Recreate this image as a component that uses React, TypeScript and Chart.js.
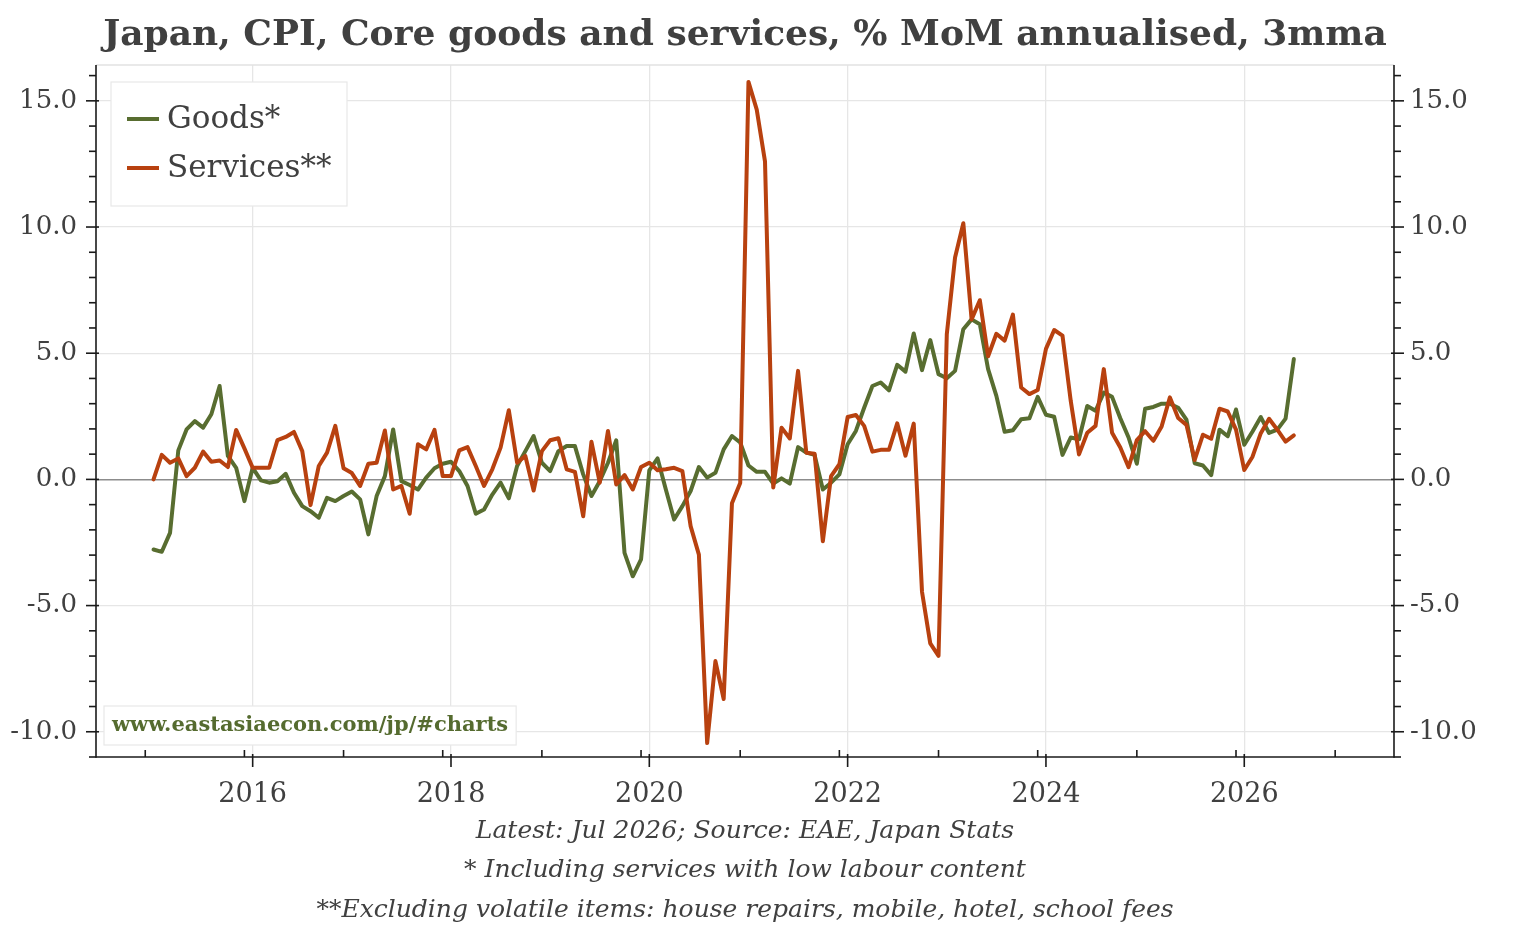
import React, { useEffect, useRef } from "react";
import { Chart, registerables } from "chart.js";

Chart.register(...registerables);

// ---------- DATA ----------
const START_YEAR = 2015; // first observation: Jan 2015, monthly to Jul 2026

const goods = [
  -2.78, -2.87, -2.12, 1.15, 1.98, 2.31, 2.05, 2.58, 3.7, 0.93, 0.46, -0.86,
  0.46, -0.04, -0.13, -0.07, 0.22, -0.53, -1.06, -1.26, -1.52, -0.73, -0.86, -0.66,
  -0.48, -0.79, -2.18, -0.66, 0.13, 1.98, -0.07, -0.22, -0.4, 0.07, 0.44, 0.62,
  0.7, 0.33, -0.26, -1.36, -1.19, -0.6, -0.13, -0.75, 0.53, 1.12, 1.72, 0.66,
  0.33, 1.12, 1.32, 1.32, 0.2, -0.66, -0.07, 0.66, 1.55, -2.91, -3.84, -3.17,
  0.36, 0.83, -0.4, -1.59, -1.06, -0.46, 0.49, 0.07, 0.26, 1.19, 1.72, 1.46,
  0.55, 0.3, 0.3, -0.17, 0.04, -0.17, 1.28, 1.06, 0.97, -0.4, -0.13, 0.2,
  1.39, 1.92, 2.84, 3.7, 3.84, 3.53, 4.54, 4.27, 5.78, 4.33, 5.52, 4.17,
  4.01, 4.3, 5.95, 6.34, 6.15, 4.37, 3.31, 1.89, 1.95, 2.38, 2.42, 3.27,
  2.56, 2.48, 0.97, 1.66, 1.59, 2.91, 2.72, 3.44, 3.27, 2.42, 1.66, 0.62,
  2.8, 2.87, 3.0, 3.0, 2.84, 2.37, 0.64, 0.55, 0.17, 1.97, 1.71, 2.77,
  1.37, 1.9, 2.47, 1.84, 1.97, 2.41, 4.77,
];

const services = [
  0.0, 0.97, 0.66, 0.83, 0.13, 0.46, 1.1, 0.7, 0.75, 0.49, 1.96, 1.23,
  0.46, 0.46, 0.46, 1.56, 1.68, 1.88, 1.12, -1.02, 0.53, 1.06, 2.12, 0.44,
  0.25, -0.26, 0.62, 0.66, 1.94, -0.4, -0.26, -1.36, 1.39, 1.19, 1.96, 0.13,
  0.13, 1.15, 1.28, 0.53, -0.26, 0.4, 1.26, 2.74, 0.66, 0.93, -0.44, 1.12,
  1.55, 1.63, 0.4, 0.3, -1.46, 1.49, -0.13, 1.92, -0.2, 0.17, -0.4, 0.49,
  0.66, 0.36, 0.4, 0.46, 0.33, -1.85, -2.98, -10.45, -7.2, -8.7, -0.95, -0.14,
  15.75, 14.65, 12.6, -0.32, 2.05, 1.62, 4.3, 1.06, 1.02, -2.45, 0.13, 0.6,
  2.47, 2.55, 2.12, 1.1, 1.17, 1.17, 2.22, 0.94, 2.21, -4.45, -6.5, -6.99,
  5.75, 8.79, 10.15, 6.34, 7.1, 4.88, 5.77, 5.5, 6.53, 3.64, 3.38, 3.54,
  5.17, 5.92, 5.7, 3.11, 0.99, 1.85, 2.12, 4.37, 1.85, 1.26, 0.48, 1.56,
  1.91, 1.53, 2.1, 3.25, 2.43, 2.16, 0.77, 1.77, 1.61, 2.8, 2.69, 1.97,
  0.37, 0.9, 1.83, 2.4, 1.97, 1.5, 1.74,
];

// month categories, "YYYY-MM"
const months = goods.map((_, i) => {
  const yr = START_YEAR + Math.floor(i / 12);
  const mo = (i % 12) + 1;
  return `${yr}-${String(mo).padStart(2, "0")}`;
});

const seriesLabels = ["Goods*", "Services**"];
const yTickValues = [-10, -5, 0, 5, 10, 15];
const xLabelYears = [2016, 2018, 2020, 2022, 2024, 2026];
const xMinorYears = [2015, 2016, 2017, 2018, 2019, 2020, 2021, 2022, 2023, 2024, 2025, 2026, 2027];

const titleText = "Japan, CPI, Core goods and services, % MoM annualised, 3mma";
const footerLines = [
  "Latest: Jul 2026; Source: EAE, Japan Stats",
  "* Including services with low labour content",
  "**Excluding volatile items: house repairs, mobile, hotel, school fees",
];
const watermark = "www.eastasiaecon.com/jp/#charts";

// ---------- STYLE ----------
const FONT = '"DejaVu Serif", Georgia, serif';
const TEXT = "#404040";
const GREEN = "#586d30";
const ORANGE = "#b8410f";
const GRID = "#e6e6e6";

const monthToX = (m: string) => {
  const [y, mo] = m.split("-").map(Number);
  return y + (mo - 1) / 12;
};

const decorPlugin = {
  id: "decor",
  afterDatasetsDraw(chart: any) {
    const { ctx, chartArea: a, scales } = chart;
    const xs = scales.x;
    const ys = scales.y;
    const line = (x1: number, y1: number, x2: number, y2: number) => {
      ctx.beginPath();
      ctx.moveTo(x1, y1);
      ctx.lineTo(x2, y2);
      ctx.stroke();
    };
    ctx.save();
    // top frame line
    ctx.strokeStyle = "#e2e2e2";
    ctx.lineWidth = 1.5;
    line(a.left, a.top, a.right, a.top);
    // spines
    ctx.strokeStyle = "#1a1a1a";
    ctx.lineWidth = 1.6;
    line(a.left, a.top, a.left, a.bottom + 0.8);
    line(a.right, a.top, a.right, a.bottom + 0.8);
    line(a.left, a.bottom, a.right, a.bottom);
    // y ticks (minor each unit, major at labels)
    for (let v = Math.ceil(ys.min); v <= ys.max; v++) {
      const py = ys.getPixelForValue(v);
      const major = yTickValues.includes(v);
      line(a.left - (major ? 10 : 7), py, a.left + (major ? 3 : 0), py);
      line(a.right - (major ? 3 : 0), py, a.right + (major ? 10 : 7), py);
    }
    // x ticks
    xMinorYears.forEach((yr) => {
      const px = xs.getPixelForValue(yr - 1 / 12);
      line(px, a.bottom, px, a.bottom - 7);
    });
    xLabelYears.forEach((yr) => {
      const px = xs.getPixelForValue(yr);
      line(px, a.bottom - 3, px, a.bottom + 10);
    });

    // legend box
    const lx = a.left + 15;
    const ly = a.top + 17;
    ctx.fillStyle = "#ffffff";
    ctx.fillRect(lx, ly, 236, 124);
    ctx.strokeStyle = "#e8e8e8";
    ctx.lineWidth = 1.2;
    ctx.strokeRect(lx, ly, 236, 124);
    ctx.font = `31px ${FONT}`;
    ctx.textBaseline = "middle";
    ctx.textAlign = "left";
    chart.data.datasets.forEach((ds: any, i: number) => {
      const cy = ly + 37 + i * 49;
      ctx.strokeStyle = ds.borderColor;
      ctx.lineWidth = 4;
      line(lx + 16, cy, lx + 48, cy);
      ctx.fillStyle = TEXT;
      ctx.fillText(ds.label, lx + 56, cy + 1);
    });

    // watermark box
    ctx.font = `bold 21px ${FONT}`;
    const tw = ctx.measureText(watermark).width;
    const wx = a.left + 8;
    const wy = a.bottom - 51;
    ctx.fillStyle = "#ffffff";
    ctx.fillRect(wx, wy, tw + 16, 39);
    ctx.strokeStyle = "#e8e8e8";
    ctx.lineWidth = 1.2;
    ctx.strokeRect(wx, wy, tw + 16, 39);
    ctx.fillStyle = "#556b2f";
    ctx.fillText(watermark, wx + 8, wy + 20);
    ctx.restore();
  },
};

export default function App() {
  const ref = useRef<HTMLCanvasElement | null>(null);

  useEffect(() => {
    document.body.style.margin = "0";
    const canvas = ref.current;
    if (!canvas) return;
    const chart = new Chart(canvas, {
      type: "line",
      data: {
        datasets: [
          {
            label: seriesLabels[0],
            data: months.map((m, i) => ({ x: monthToX(m), y: goods[i] })),
            borderColor: GREEN,
            backgroundColor: GREEN,
            borderWidth: 4,
            pointRadius: 0,
            order: 1,
            yAxisID: "y",
          },
          {
            label: seriesLabels[1],
            data: months.map((m, i) => ({ x: monthToX(m), y: services[i] })),
            borderColor: ORANGE,
            backgroundColor: ORANGE,
            borderWidth: 4,
            pointRadius: 0,
            order: 0,
            yAxisID: "y",
          },
        ],
      },
      options: {
        responsive: false,
        animation: false,
        devicePixelRatio: 1,
        layout: { padding: 0 },
        elements: { line: { tension: 0, borderJoinStyle: "round", borderCapStyle: "round" } },
        plugins: {
          legend: { display: false },
          tooltip: { enabled: false },
          title: {
            display: true,
            fullSize: false,
            text: titleText,
            color: TEXT,
            font: { family: FONT, size: 36, weight: "bold", lineHeight: 1.2 },
            padding: { top: 14, bottom: 7.8 },
          },
          subtitle: {
            display: true,
            fullSize: false,
            position: "bottom",
            text: footerLines,
            color: TEXT,
            font: { family: FONT, size: 25, style: "italic", lineHeight: 1.58 },
            padding: { top: 0, bottom: 0 },
          },
        },
        scales: {
          x: {
            type: "linear",
            min: 2014.42,
            max: 2027.51,
            afterBuildTicks: (s: any) => {
              s.ticks = xLabelYears.map((v) => ({ value: v }));
            },
            afterFit: (s: any) => {
              s.height = 54.5;
            },
            ticks: {
              callback: (v: any) => String(v),
              color: TEXT,
              font: { family: FONT, size: 27 },
              padding: 22,
              maxRotation: 0,
              autoSkip: false,
            },
            grid: { color: GRID, lineWidth: 1.3, drawTicks: false },
            border: { display: false },
          },
          y: {
            position: "left",
            min: -11.0,
            max: 16.42,
            afterBuildTicks: (s: any) => {
              s.ticks = yTickValues.map((v) => ({ value: v }));
            },
            afterFit: (s: any) => {
              s.width = 96;
            },
            ticks: {
              callback: (v: any) => Number(v).toFixed(1),
              color: TEXT,
              font: { family: FONT, size: 26 },
              padding: 19,
            },
            grid: {
              color: (c: any) => (c.tick && c.tick.value === 0 ? "#8c8c8c" : GRID),
              lineWidth: (c: any) => (c.tick && c.tick.value === 0 ? 1.6 : 1.3),
              drawTicks: false,
            },
            border: { display: false },
          },
          y2: {
            position: "right",
            min: -11.0,
            max: 16.42,
            afterBuildTicks: (s: any) => {
              s.ticks = yTickValues.map((v) => ({ value: v }));
            },
            afterFit: (s: any) => {
              s.width = 140;
            },
            ticks: {
              callback: (v: any) => Number(v).toFixed(1),
              color: TEXT,
              font: { family: FONT, size: 26 },
              padding: 16,
            },
            grid: { drawOnChartArea: false, drawTicks: false },
            border: { display: false },
          },
        },
      },
      plugins: [decorPlugin],
    });
    return () => chart.destroy();
  }, []);

  return (
    <canvas
      ref={ref}
      width={1534}
      height={930}
      style={{ display: "block", width: 1534, height: 930 }}
    />
  );
}
